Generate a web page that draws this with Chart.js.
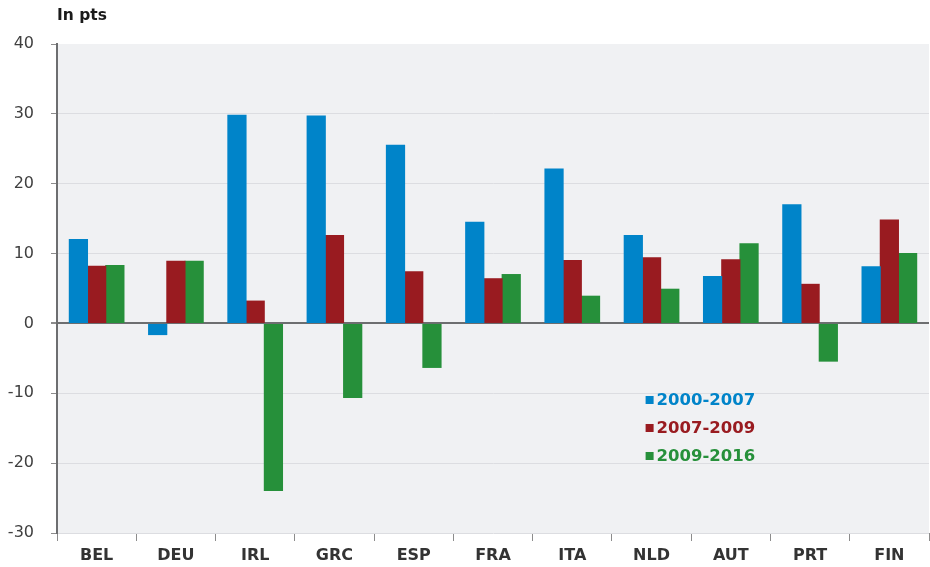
<!DOCTYPE html>
<html>
<head>
<meta charset="utf-8">
<script src="https://cdn.jsdelivr.net/npm/chart.js@4/dist/chart.umd.min.js"></script>
<style>
html,body{margin:0;padding:0;background:#fff;}
#wrap{width:930px;height:567px;position:relative;}
</style>
</head>
<body>
<div id="wrap"><canvas id="c" width="930" height="567"></canvas></div>
<script>
const categories = ["BEL","DEU","IRL","GRC","ESP","FRA","ITA","NLD","AUT","PRT","FIN"];
const seriesNames = ["2000-2007","2007-2009","2009-2016"];
const s2000_2007 = [12.0,-1.6,29.8,29.7,25.5,14.5,22.1,12.6,6.7,17.0,8.1];
const s2007_2009 = [8.2,8.9,3.2,12.6,7.4,6.4,9.0,9.4,9.1,5.6,14.8];
const s2009_2016 = [8.3,8.9,-23.9,-10.6,-6.3,7.0,3.9,4.9,11.4,-5.4,10.0];
const yTicks = [-30,-20,-10,0,10,20,30,40];
const colors = ["#0084c9","#991b20","#26903a"];

const FONT = "'DejaVu Sans', sans-serif";

const bgPlugin = {
  id: 'bg',
  beforeDraw(chart) {
    const {ctx, chartArea: a} = chart;
    ctx.save();
    ctx.fillStyle = '#f0f1f3';
    ctx.fillRect(a.left, a.top, a.right - a.left, a.bottom - a.top);
    ctx.restore();
  },
  afterDraw(chart) {
    const {ctx, chartArea: a} = chart;
    ctx.save();
    ctx.fillStyle = '#1a1a1a';
    ctx.font = "bold 15.5px " + FONT;
    ctx.textBaseline = 'alphabetic';
    ctx.textAlign = 'left';
    ctx.fillText('In pts', a.left, 20);
    const lx = a.left + (a.right - a.left) * 0.675;
    const ly0 = a.top + (a.bottom - a.top) * 0.728;
    ctx.font = "bold 16.5px " + FONT;
    ctx.textBaseline = 'middle';
    chart.data.datasets.forEach((ds, i) => {
      const y = ly0 + i * 28;
      ctx.fillStyle = ds.backgroundColor;
      ctx.fillRect(lx, y - 4, 8, 8);
      ctx.fillText(ds.label, lx + 11, y + 1);
    });
    ctx.restore();
  }
};

new Chart(document.getElementById('c'), {
  type: 'bar',
  data: {
    labels: categories,
    datasets: [
      {label: seriesNames[0], data: s2000_2007, backgroundColor: colors[0]},
      {label: seriesNames[1], data: s2007_2009, backgroundColor: colors[1]},
      {label: seriesNames[2], data: s2009_2016, backgroundColor: colors[2]}
    ]
  },
  options: {
    responsive: false,
    animation: false,
    devicePixelRatio: 1,
    layout: {padding: {top: 44, right: 1, left: 0, bottom: 0}},
    datasets: {bar: {categoryPercentage: 0.69, barPercentage: 1.0, borderWidth: 0, inflateAmount: 0.5}},
    plugins: {legend: {display: false}, tooltip: {enabled: false}},
    scales: {
      x: {
        offset: true,
        border: {display: false},
        grid: {display: true, drawOnChartArea: false, drawTicks: true, tickLength: 8, tickColor: '#8c8c8c', offset: true},
        ticks: {color: '#333', font: {family: FONT, size: 16, weight: 'bold'}, padding: 5, maxRotation: 0},
        afterFit(s) { s.height = 34; }
      },
      y: {
        min: -30, max: 40,
        afterBuildTicks(s) { s.ticks = yTicks.map(v => ({value: v})); },
        border: {display: true, color: '#6d6e70', width: 2},
        grid: {
          color: c => c.tick && c.tick.value === 0 ? '#6d6e70' : (c.tick && c.tick.value === 40 ? 'rgba(0,0,0,0)' : '#dcdde1'),
          lineWidth: c => c.tick && c.tick.value === 0 ? 2 : 1,
          tickColor: '#8c8c8c', tickLength: 6, drawTicks: true
        },
        ticks: {color: '#404040', font: {family: FONT, size: 16}, padding: 17},
        afterFit(s) { s.width = 57; }
      }
    }
  },
  plugins: [bgPlugin]
});
</script>
</body>
</html>
